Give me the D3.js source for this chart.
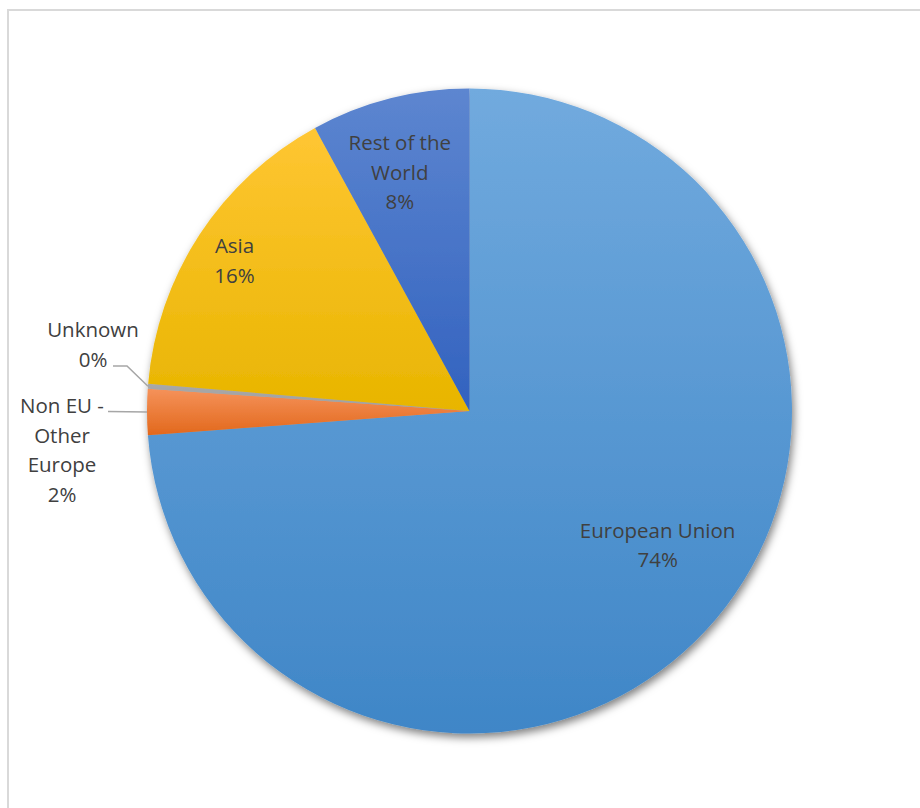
<!DOCTYPE html>
<html>
<head>
<meta charset="utf-8">
<script src="https://cdn.jsdelivr.net/npm/d3@7"></script>
<style>
  html, body { margin: 0; padding: 0; background: #fff; }
  svg { display: block; }
</style>
</head>
<body>
<svg id="chart" width="920" height="808"></svg>
<script>
// Share of trade partners by region (percent)
const categories = ["European Union", "Non EU - Other Europe", "Unknown", "Asia", "Rest of the World"];
const shares = [73.8, 2.3, 0.25, 15.7, 7.95];
const labelLines = [["European Union"], ["Non EU -", "Other", "Europe"], ["Unknown"], ["Asia"], ["Rest of the", "World"]];
// Gradient fill per slice: [top, bottom]
const colorsTop = ["#71aade", "#f5925a", "#a8a8a8", "#ffc633", "#5d86d0"];
const colorsBottom = ["#3f86c7", "#e2681c", "#a0a0a0", "#e8b500", "#3262bf"];

const W = 920, H = 808;
const cx = 469.5, cy = 411, R = 322.5;

const svg = d3.select("#chart");
const defs = svg.append("defs");

// Frame around the chart area
svg.append("rect")
  .attr("x", 8).attr("y", 10)
  .attr("width", W + 20).attr("height", H + 20)
  .attr("fill", "none").attr("stroke", "#d9d9d9").attr("stroke-width", 2);

// Soft drop shadow under the pie
const shadow = defs.append("filter").attr("id", "pieShadow")
  .attr("x", "-10%").attr("y", "-10%").attr("width", "125%").attr("height", "125%");
shadow.append("feDropShadow")
  .attr("dx", 2).attr("dy", 4).attr("stdDeviation", 4)
  .attr("flood-color", "#000").attr("flood-opacity", 0.5);

// Vertical gradient per slice: lighter at top, darker at bottom
colorsTop.forEach((c, i) => {
  const g = defs.append("linearGradient").attr("id", "grad" + i)
    .attr("x1", 0).attr("y1", 0).attr("x2", 0).attr("y2", 1);
  g.append("stop").attr("offset", "0%").attr("stop-color", c);
  g.append("stop").attr("offset", "100%").attr("stop-color", colorsBottom[i]);
});

const pie = d3.pie().sort(null).value(d => d)(shares);
const arc = d3.arc().innerRadius(0).outerRadius(R);

const gPie = svg.append("g")
  .attr("transform", `translate(${cx},${cy})`);

gPie.append("g").attr("filter", "url(#pieShadow)")
  .selectAll("path")
  .data(pie)
  .join("path")
  .attr("d", arc)
  .attr("fill", (d, i) => `url(#grad${i})`);

const pctText = v => Math.round(v) + "%";

// Label placement: inside labels sit along the slice's angle at a fraction of the radius;
// outside labels sit to the left with leader lines.
const labelLayout = [
  { inside: true, rf: 0.717, da: -7.3 },
  { inside: false, x: 62, y: 406, ly: 411.5, hx: 108 },
  { inside: false, x: 93, y: 330, ly: 366, hx: 113, kx: 127 },
  { inside: true, rf: 0.865, da: -0.5 },
  { inside: true, rf: 0.77, da: -2 }
];

const lineH = 29.5;
const fontSize = 20.5;
const gLab = svg.append("g")
  .attr("font-family", "'Open Sans', 'DejaVu Sans', sans-serif")
  .attr("font-size", fontSize)
  .attr("fill", "#404040")
  .attr("text-anchor", "middle");

pie.forEach((d, i) => {
  const lay = labelLayout[i];
  const lines = labelLines[i].concat([pctText(shares[i])]);
  let x, y0;
  if (lay.inside) {
    const a = (d.startAngle + d.endAngle) / 2 + lay.da * Math.PI / 180;
    x = cx + Math.sin(a) * R * lay.rf;
    const yc = cy - Math.cos(a) * R * lay.rf;
    y0 = yc - (lines.length - 1) * lineH / 2;
  } else {
    x = lay.x;
    y0 = lay.y;
    const a = (d.startAngle + d.endAngle) / 2;
    const px = cx + Math.sin(a) * R, py = cy - Math.cos(a) * R;
    const pts = [[lay.hx, lay.ly]];
    if (lay.kx) pts.push([lay.kx, lay.ly]);
    pts.push([px, py]);
    svg.append("path")
      .attr("d", d3.line()(pts))
      .attr("fill", "none")
      .attr("stroke", "#a6a6a6")
      .attr("stroke-width", 1.5);
  }
  const t = gLab.append("text");
  lines.forEach((s, k) => {
    t.append("tspan")
      .attr("x", x)
      .attr("y", y0 + k * lineH)
      .attr("dy", "0.35em")
      .text(s);
  });
});
</script>
</body>
</html>
